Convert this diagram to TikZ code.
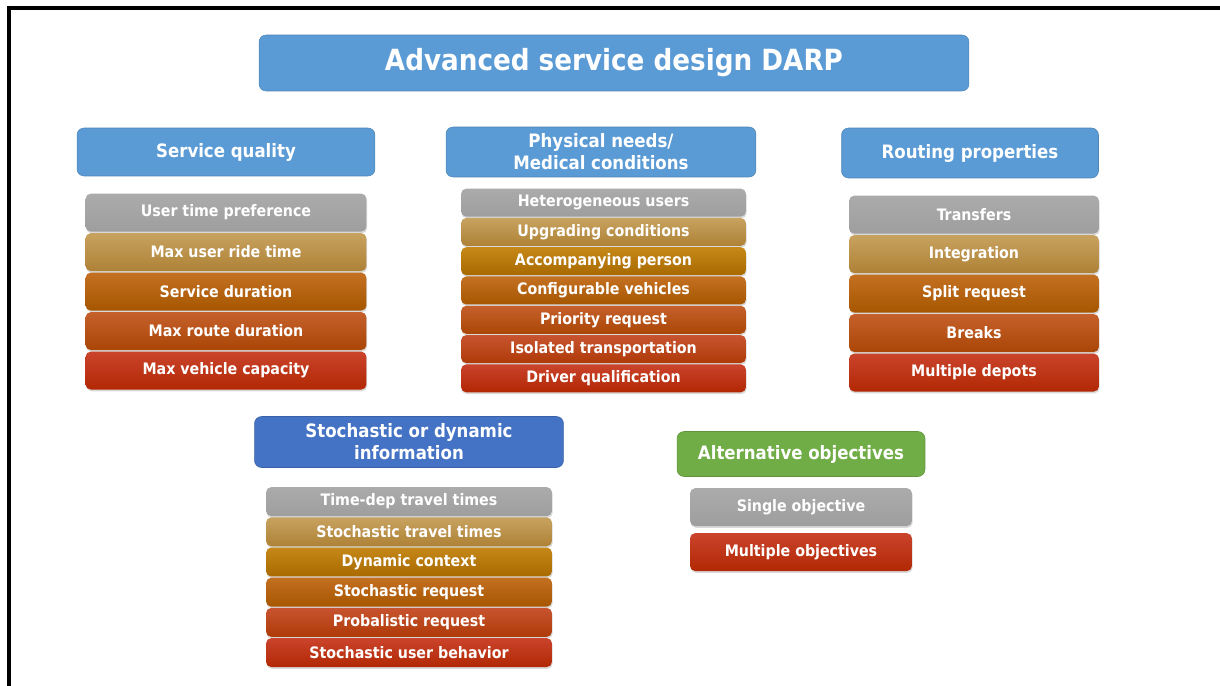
\documentclass[tikz,border=0pt]{standalone}
\usepackage{fontspec}
\setmainfont{DejaVu Sans Condensed}
\usepackage{tikz}
\usetikzlibrary{matrix,positioning,shadows}

\definecolor{hdrblue}{HTML}{5B9BD5}
\definecolor{hdrdark}{HTML}{4472C4}
\definecolor{hdrgreen}{HTML}{70AD47}

\tikzset{
	header/.style={rounded corners=4pt, fill=#1, draw=#1!85!black, line width=0.3pt,
		text=white, font=\bfseries\fontsize{10.5}{12.6}\selectfont, align=center, inner sep=2pt},
	item/.style={rounded corners=3pt, text=white, inner sep=1pt,
		font=\bfseries\fontsize{9}{10}\selectfont,
		drop shadow={opacity=0.3, shadow xshift=0.4pt, shadow yshift=-1pt}},
	c gray/.style={top color=gray!66, bottom color=gray!76},
	c gold/.style={top color={rgb,255:red,200;green,162;blue,96}, bottom color={rgb,255:red,174;green,130;blue,54}},
	c amber/.style={top color={rgb,255:red,198;green,136;blue,24}, bottom color={rgb,255:red,168;green,106;blue,0}},
	c orange/.style={top color={rgb,255:red,196;green,112;blue,34}, bottom color={rgb,255:red,166;green,86;blue,0}},
	c burnt/.style={top color={rgb,255:red,198;green,96;blue,44}, bottom color={rgb,255:red,170;green,70;blue,6}},
	c rust/.style={top color={rgb,255:red,200;green,84;blue,48}, bottom color={rgb,255:red,174;green,58;blue,8}},
	c red/.style={top color={rgb,255:red,202;green,68;blue,44}, bottom color={rgb,255:red,178;green,40;blue,4}},
}

\begin{document}
\begin{tikzpicture}[x=0.02cm, y=-0.02cm]
	\useasboundingbox (0,0) rectangle (1220,686);
	% frame
	\draw[line width=2pt] (9,686) |- (1220,8);

	% headers
	\node[header=hdrblue, minimum width=14.2cm, minimum height=1.12cm,
		font=\bfseries\fontsize{16.6}{19}\selectfont] (title) at (614,63) {Advanced service design DARP};
	\node[header=hdrblue, minimum width=5.96cm, minimum height=0.96cm] (sqh) at (226,152) {Service quality};
	\node[header=hdrblue, minimum width=6.2cm, minimum height=1.0cm] (phh) at (601,152) {Physical needs/\\Medical conditions};
	\node[header=hdrblue, minimum width=5.14cm, minimum height=1.0cm] (rph) at (970,153) {Routing properties};
	\node[header=hdrdark, minimum width=6.18cm, minimum height=1.02cm] (sdh) at (409,442) {Stochastic or dynamic\\information};
	\node[header=hdrgreen, minimum width=4.96cm, minimum height=0.9cm] (aoh) at (801,454) {Alternative objectives};

	% lists
	\matrix (sq) [matrix of nodes, below=0.34cm of sqh, inner sep=0pt, row sep=0.03cm,
		nodes={item, minimum width=5.62cm, minimum height=0.76cm},
		row 1/.style={nodes={c gray}}, row 2/.style={nodes={c gold}}, row 3/.style={nodes={c orange}},
		row 4/.style={nodes={c burnt}}, row 5/.style={nodes={c red}}]
	{
		User time preference \\
		Max user ride time \\
		Service duration \\
		Max route duration \\
		Max vehicle capacity \\
	};
	\matrix (ph) [matrix of nodes, below=0.22cm of phh, xshift=0.05cm, inner sep=0pt, row sep=0.026cm,
		nodes={item, minimum width=5.7cm, minimum height=0.56cm},
		row 1/.style={nodes={c gray}}, row 2/.style={nodes={c gold}}, row 3/.style={nodes={c amber}},
		row 4/.style={nodes={c orange}}, row 5/.style={nodes={c burnt}}, row 6/.style={nodes={c rust}},
		row 7/.style={nodes={c red}}]
	{
		Heterogeneous users \\
		Upgrading conditions \\
		Accompanying person \\
		Configurable vehicles \\
		Priority request \\
		Isolated transportation \\
		Driver qualification \\
	};
	\matrix (rp) [matrix of nodes, below=0.34cm of rph, xshift=0.08cm, inner sep=0pt, row sep=0.03cm,
		nodes={item, minimum width=5.0cm, minimum height=0.76cm},
		row 1/.style={nodes={c gray}}, row 2/.style={nodes={c gold}}, row 3/.style={nodes={c orange}},
		row 4/.style={nodes={c burnt}}, row 5/.style={nodes={c red}}]
	{
		Transfers \\
		Integration \\
		Split request \\
		Breaks \\
		Multiple depots \\
	};
	\matrix (sd) [matrix of nodes, below=0.38cm of sdh, inner sep=0pt, row sep=0.024cm,
		nodes={item, minimum width=5.72cm, minimum height=0.58cm},
		row 1/.style={nodes={c gray}}, row 2/.style={nodes={c gold}}, row 3/.style={nodes={c amber}},
		row 4/.style={nodes={c orange}}, row 5/.style={nodes={c rust}}, row 6/.style={nodes={c red}}]
	{
		Time-dep travel times \\
		Stochastic travel times \\
		Dynamic context \\
		Stochastic request \\
		Probalistic request \\
		Stochastic user behavior \\
	};
	\matrix (ao) [matrix of nodes, below=0.22cm of aoh, inner sep=0pt, row sep=0.14cm,
		nodes={item, minimum width=4.44cm, minimum height=0.76cm},
		row 1/.style={nodes={c gray}}, row 2/.style={nodes={c red}}]
	{
		Single objective \\
		Multiple objectives \\
	};
\end{tikzpicture}
\end{document}
